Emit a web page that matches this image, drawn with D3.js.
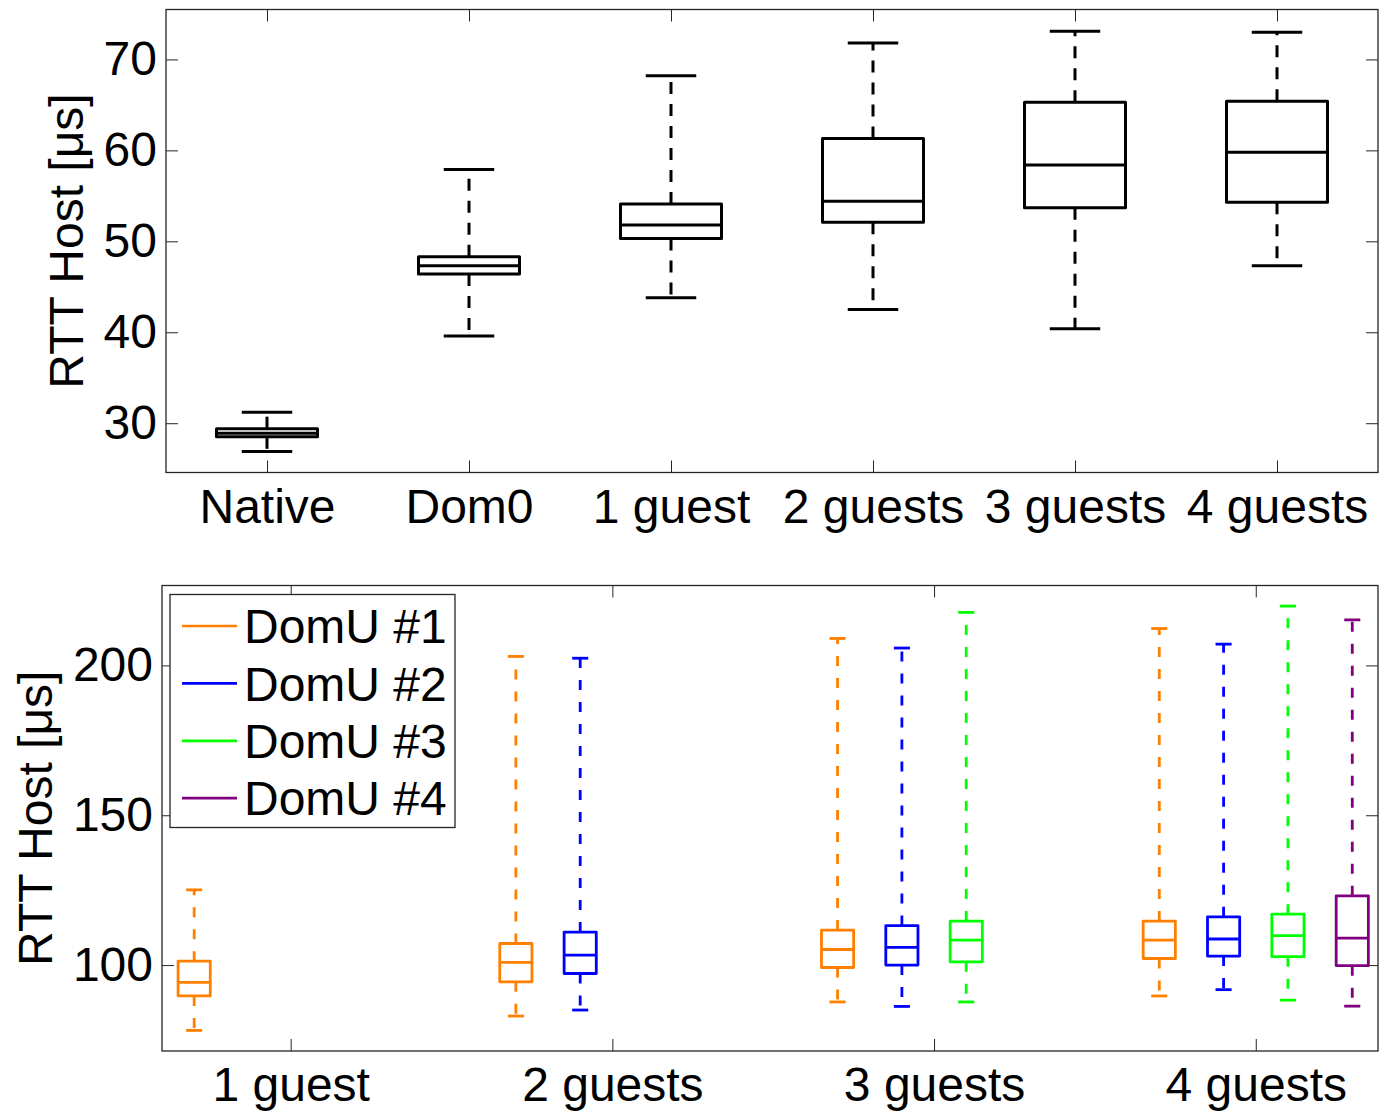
<!DOCTYPE html>
<html>
<head>
<meta charset="utf-8">
<script src="https://cdn.jsdelivr.net/npm/d3@7/dist/d3.min.js"></script>
<style>
  body { margin: 0; background: #fff; }
  text { font-family: "Liberation Sans", Arial, Helvetica, sans-serif; fill: #000; }
</style>
</head>
<body>
<div id="chart"></div>
<script>
// ---- data (in µs) ----
const topCategories = ["Native", "Dom0", "1 guest", "2 guests", "3 guests", "4 guests"];
const topLow    = [26.9, 39.6, 43.8, 42.5, 40.4, 47.3];
const topQ1     = [28.5, 46.4, 50.3, 52.1, 53.7, 54.3];
const topMedian = [28.9, 47.3, 51.8, 54.4, 58.4, 59.8];
const topQ3     = [29.4, 48.3, 54.1, 61.3, 65.3, 65.4];
const topHigh   = [31.2, 57.9, 68.2, 71.8, 73.1, 73.0];
const topTicks  = [30, 40, 50, 60, 70];

const bottomGroups = ["1 guest", "2 guests", "3 guests", "4 guests"];
const seriesNames  = ["DomU #1", "DomU #2", "DomU #3", "DomU #4"];
const seriesColors = ["#ff7f00", "#0000ff", "#00ff00", "#800080"];
// [low, q1, median, q3, high] per group, null = no guest
const domU1 = [[78.2, 89.7, 94.2, 101.3, 125.1], [83.0, 94.4, 100.9, 107.2, 203.0], [87.7, 99.2, 105.2, 111.7, 209.0], [89.7, 102.2, 108.3, 114.7, 212.3]];
const domU2 = [null, [85.0, 97.2, 103.3, 111.0, 202.4], [86.2, 100.0, 105.9, 113.2, 205.8], [91.8, 103.0, 108.7, 116.1, 207.1]];
const domU3 = [null, null, [87.7, 101.1, 108.3, 114.7, 217.7], [88.3, 102.8, 109.8, 117.0, 219.8]];
const domU4 = [null, null, null, [86.3, 99.8, 109.0, 123.1, 215.2]];
const bottomSeries = [domU1, domU2, domU3, domU4];
const bottomTicks = [100, 150, 200];

const fontSize = 48;
const frameColor = "#262626";

const svg = d3.select("#chart").append("svg")
    .attr("width", 1379)
    .attr("height", 1114);

function drawFrame(g, x0, x1, y0, y1) {
    g.append("rect")
        .attr("x", x0).attr("y", y0)
        .attr("width", x1 - x0).attr("height", y1 - y0)
        .attr("fill", "none")
        .attr("stroke", frameColor)
        .attr("stroke-width", 1.3);
}

function styleAxis(sel) {
    sel.select(".domain").remove();
    sel.selectAll(".tick line").attr("stroke", frameColor).attr("stroke-width", 1);
    sel.selectAll(".tick text").style("font-size", fontSize + "px").attr("fill", "#000");
}

function drawBox(g, x, y, cx, halfW, capHalf, s, color, width, dash) {
    const [lo, q1, med, q3, hi] = s;
    // whiskers
    g.append("line")
        .attr("x1", x(cx)).attr("x2", x(cx))
        .attr("y1", y(q3)).attr("y2", y(hi))
        .attr("stroke", color).attr("stroke-width", width)
        .attr("stroke-dasharray", dash);
    g.append("line")
        .attr("x1", x(cx)).attr("x2", x(cx))
        .attr("y1", y(q1)).attr("y2", y(lo))
        .attr("stroke", color).attr("stroke-width", width)
        .attr("stroke-dasharray", dash);
    // caps
    [lo, hi].forEach(v => {
        g.append("line")
            .attr("x1", x(cx - capHalf)).attr("x2", x(cx + capHalf))
            .attr("y1", y(v)).attr("y2", y(v))
            .attr("stroke", color).attr("stroke-width", width);
    });
    // box
    g.append("rect")
        .attr("x", x(cx - halfW))
        .attr("y", y(q3))
        .attr("width", x(cx + halfW) - x(cx - halfW))
        .attr("height", y(q1) - y(q3))
        .attr("fill", "none")
        .attr("stroke", color).attr("stroke-width", width)
        .attr("stroke-linejoin", "round");
    g.append("line")
        .attr("x1", x(cx - halfW)).attr("x2", x(cx + halfW))
        .attr("y1", y(med)).attr("y2", y(med))
        .attr("stroke", color).attr("stroke-width", width);
}

// ---------------- top panel ----------------
{
    const L = 166, R = 1378, T = 9.5, B = 472.5;
    const x = d3.scaleLinear().domain([0.5, 6.5]).range([L, R]);
    const y = d3.scaleLinear().domain([24.58, 75.49]).range([B, T]);
    const g = svg.append("g");
    const pos = topCategories.map((c, i) => i + 1);

    g.append("g").attr("transform", `translate(${L},0)`)
        .call(d3.axisLeft(y).tickValues(topTicks).tickSize(-12).tickPadding(9))
        .call(styleAxis);
    g.append("g").attr("transform", `translate(${R},0)`)
        .call(d3.axisRight(y).tickValues(topTicks).tickSize(-12).tickFormat(""))
        .call(styleAxis);
    g.append("g").attr("transform", `translate(0,${B})`)
        .call(d3.axisBottom(x).tickValues(pos).tickSize(-12).tickPadding(16)
            .tickFormat((d, i) => topCategories[i]))
        .call(styleAxis);
    g.append("g").attr("transform", `translate(0,${T})`)
        .call(d3.axisTop(x).tickValues(pos).tickSize(-12).tickFormat(""))
        .call(styleAxis);

    pos.forEach((p, i) => {
        drawBox(g, x, y, p, 0.25, 0.125,
            [topLow[i], topQ1[i], topMedian[i], topQ3[i], topHigh[i]],
            "#000", 3, "12,10");
    });
    drawFrame(g, L, R, T, B);

    g.append("text")
        .attr("transform", `translate(83,${(T + B) / 2}) rotate(-90)`)
        .attr("text-anchor", "middle")
        .style("font-size", fontSize + "px")
        .text("RTT Host [μs]");
}

// ---------------- bottom panel ----------------
{
    const L = 162, R = 1378, T = 585.5, B = 1051;
    const x = d3.scaleLinear().domain([0.5, 19.4]).range([L, R]);
    const y = d3.scaleLinear().domain([71.33, 226.67]).range([B, T]);
    const g = svg.append("g");
    const groupPos = bottomGroups.map((c, i) => i * 5 + 2.5);

    g.append("g").attr("transform", `translate(${L},0)`)
        .call(d3.axisLeft(y).tickValues(bottomTicks).tickSize(-12).tickPadding(9))
        .call(styleAxis);
    g.append("g").attr("transform", `translate(${R},0)`)
        .call(d3.axisRight(y).tickValues(bottomTicks).tickSize(-12).tickFormat(""))
        .call(styleAxis);
    g.append("g").attr("transform", `translate(0,${B})`)
        .call(d3.axisBottom(x).tickValues(groupPos).tickSize(-12).tickPadding(16)
            .tickFormat((d, i) => bottomGroups[i]))
        .call(styleAxis);
    g.append("g").attr("transform", `translate(0,${T})`)
        .call(d3.axisTop(x).tickValues(groupPos).tickSize(-12).tickFormat(""))
        .call(styleAxis);

    bottomSeries.forEach((series, k) => {
        series.forEach((s, gi) => {
            if (!s) return;
            drawBox(g, x, y, gi * 5 + k + 1, 0.25, 0.125, s, seriesColors[k], 2.8, "10,12");
        });
    });
    drawFrame(g, L, R, T, B);

    g.append("text")
        .attr("transform", `translate(52,${(T + B) / 2}) rotate(-90)`)
        .attr("text-anchor", "middle")
        .style("font-size", fontSize + "px")
        .text("RTT Host [μs]");

    // legend
    const lg = g.append("g");
    lg.append("rect")
        .attr("x", 170).attr("y", 594.5)
        .attr("width", 285).attr("height", 233)
        .attr("fill", "#fff")
        .attr("stroke", frameColor).attr("stroke-width", 1.3);
    seriesNames.forEach((name, k) => {
        const cy = 626 + k * 57.4;
        lg.append("line")
            .attr("x1", 182).attr("x2", 237)
            .attr("y1", cy).attr("y2", cy)
            .attr("stroke", seriesColors[k]).attr("stroke-width", 2.7);
        lg.append("text")
            .attr("x", 244).attr("y", cy)
            .attr("dy", "0.36em")
            .style("font-size", fontSize + "px")
            .text(name);
    });
}
</script>
</body>
</html>
